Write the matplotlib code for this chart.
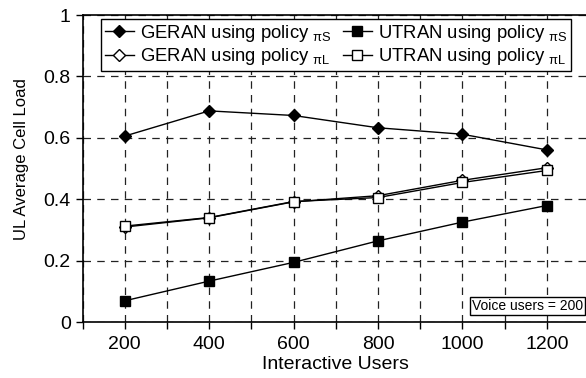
import matplotlib
matplotlib.use('Agg')
import matplotlib.pyplot as plt
from matplotlib.ticker import MultipleLocator

plt.rcParams['font.family'] = ['Liberation Sans', 'DejaVu Sans']
plt.rcParams['mathtext.fontset'] = 'custom'
plt.rcParams['mathtext.rm'] = 'Liberation Sans'
plt.rcParams['mathtext.it'] = 'Liberation Sans'

# load per interactive user count (voice users fixed at 200)
users = [200, 400, 600, 800, 1000, 1200]
geran_s = [0.606, 0.688, 0.673, 0.633, 0.612, 0.561]
geran_l = [0.310, 0.340, 0.392, 0.412, 0.462, 0.503]
utran_s = [0.070, 0.134, 0.195, 0.265, 0.326, 0.380]
utran_l = [0.313, 0.341, 0.393, 0.406, 0.455, 0.494]
yticks = [0, 0.2, 0.4, 0.6, 0.8, 1]
ylabels = ['0', '0.2', '0.4', '0.6', '0.8', '1']

fig = plt.figure(figsize=(5.86, 3.78), dpi=100)
ax = fig.add_axes([82.5/586, 1 - 322.3/378, 506.5/586, 307.3/378])

ax.plot(users, geran_s, '-', color='k', lw=1, marker='D', ms=6.5, mfc='k', mec='k',
        label=r'GERAN using policy $_{\mathrm{\pi S}}$')
ax.plot(users, geran_l, '-', color='k', lw=1, marker='D', ms=6.5, mfc='white', mec='k',
        label=r'GERAN using policy $_{\mathrm{\pi L}}$')
ax.plot(users, utran_s, '-', color='k', lw=1, marker='s', ms=7.5, mfc='k', mec='k',
        label=r'UTRAN using policy $_{\mathrm{\pi S}}$')
ax.plot(users, utran_l, '-', color='k', lw=1, marker='s', ms=7.5, mfc='white', mec='k',
        label=r'UTRAN using policy $_{\mathrm{\pi L}}$')

ax.set_xlim(100, 1300)
ax.set_ylim(0, 1)
ax.xaxis.set_major_locator(MultipleLocator(200))
ax.xaxis.set_minor_locator(MultipleLocator(100))
ax.set_yticks(yticks)
ax.set_yticklabels(ylabels)

ax.grid(True, which='both', axis='x', color='#222222', ls=(0, (6, 5)), lw=0.9)
ax.grid(True, which='major', axis='y', color='#222222', ls=(0, (6, 5)), lw=0.9)
ax.set_axisbelow(True)

ax.tick_params(which='both', direction='out', length=5, width=1, labelsize=14, colors='k')
ax.tick_params(axis='x', which='major', pad=5)
for s in ax.spines.values():
    s.set_linewidth(1.2)
    s.set_color('k')

ax.set_xlabel('Interactive Users', fontsize=14, labelpad=2)
ax.set_ylabel('UL Average Cell Load', fontsize=12)
ax.yaxis.set_label_coords(-0.105, 0.53)

leg = ax.legend(ncol=2, loc='upper left', bbox_to_anchor=(101/586, 1 - 19/378),
                bbox_transform=fig.transFigure, borderaxespad=0, fontsize=13.3,
                frameon=True, fancybox=False, edgecolor='k', framealpha=1,
                handlelength=1.6, handletextpad=0.3, columnspacing=0.6,
                borderpad=0.2, labelspacing=0.15)
leg.get_frame().set_linewidth(1)

fig.text(583/586, 1 - 313/378, 'Voice users = 200', fontsize=10,
         ha='right', va='bottom',
         bbox=dict(boxstyle='square,pad=0.15', fc='white', ec='k', lw=1))

fig.savefig('out.png', dpi=100)
